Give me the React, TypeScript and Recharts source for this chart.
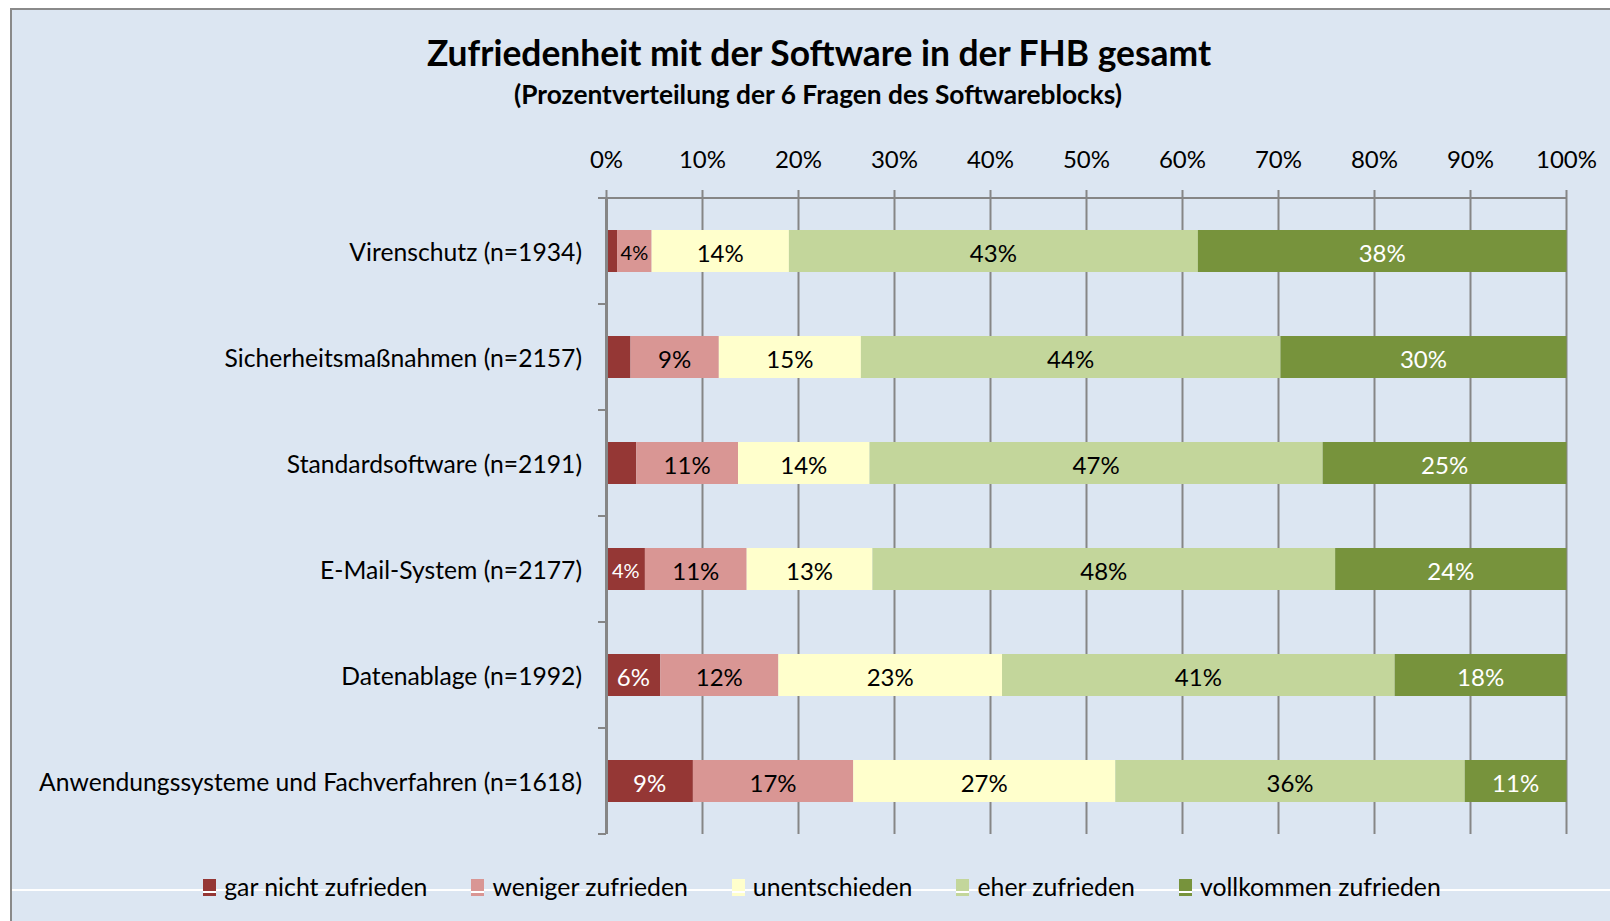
import React from "react";
import { BarChart, Bar, XAxis, YAxis, CartesianGrid, LabelList } from "recharts";

const categories = [
  "Virenschutz (n=1934)",
  "Sicherheitsmaßnahmen (n=2157)",
  "Standardsoftware (n=2191)",
  "E-Mail-System (n=2177)",
  "Datenablage (n=1992)",
  "Anwendungssysteme und Fachverfahren (n=1618)",
];
const garNicht = [1.1, 2.5, 3.1, 4.0, 5.6, 9.0];
const weniger = [3.6, 9.2, 10.6, 10.6, 12.3, 16.7];
const unentschieden = [14.3, 14.8, 13.7, 13.1, 23.3, 27.3];
const eher = [42.6, 43.7, 47.2, 48.2, 40.9, 36.4];
const vollkommen = [38.4, 29.8, 25.4, 24.1, 17.9, 10.6];
const xTicks = [0, 10, 20, 30, 40, 50, 60, 70, 80, 90, 100];

const series = [
  { key: "g", name: "gar nicht zufrieden", color: "#953735", text: "#fff", values: garNicht },
  { key: "w", name: "weniger zufrieden", color: "#D99694", text: "#000", values: weniger },
  { key: "u", name: "unentschieden", color: "#FFFFCC", text: "#000", values: unentschieden },
  { key: "e", name: "eher zufrieden", color: "#C3D69B", text: "#000", values: eher },
  { key: "v", name: "vollkommen zufrieden", color: "#77933C", text: "#fff", values: vollkommen },
];

const data = categories.map((name, i) => {
  const row: Record<string, string | number> = { name };
  series.forEach((s) => (row[s.key] = s.values[i]));
  return row;
});

const FONT = "Lato, 'Open Sans', sans-serif";
const GRID = "#868686";
const BAND = 106;

function XTick({ x, payload }: any) {
  return (
    <text x={x} y={158} textAnchor="middle" dominantBaseline="central" fontSize={24} fontFamily={FONT} fill="#000">
      {payload.value}%
    </text>
  );
}

function YTick({ y, payload, index }: any) {
  return (
    <g>
      <text x={582} y={y} textAnchor="end" dominantBaseline="central" fontSize={24.7} fontFamily={FONT} fill="#000">
        {payload.value}
      </text>
      <line x1={598} x2={606} y1={y - BAND / 2} y2={y - BAND / 2} stroke={GRID} strokeWidth={2} />
      {index === categories.length - 1 ? (
        <line x1={598} x2={606} y1={y + BAND / 2} y2={y + BAND / 2} stroke={GRID} strokeWidth={2} />
      ) : null}
    </g>
  );
}

// narrow segments get a smaller label, tiny ones none at all
const makeLabel = (color: string) => (props: any) => {
  const { x, y, width, height, value } = props;
  if (value < 3.5) return null;
  const fs = width < 45 ? 20 : 24;
  return (
    <text x={x + width / 2} y={y + height / 2 + 1} textAnchor="middle" dominantBaseline="central" fontSize={fs} fontFamily={FONT} fill={color}>
      {Math.round(value)}%
    </text>
  );
};

export default function App() {
  return (
    <div style={{ position: "absolute", left: 0, top: 0, width: 1610, height: 921, background: "#fff", overflow: "hidden", fontFamily: FONT }}>
      <div
        style={{
          position: "absolute", left: 10, top: 8, width: 1600, height: 913,
          background: "#DCE6F2", borderLeft: "2px solid #8a8a8a", borderTop: "2px solid #8a8a8a",
        }}
      />
      <div style={{ position: "absolute", left: 12, top: 889, width: 1598, height: 2, background: "#fff" }} />
      <div style={{ position: "absolute", left: 0, width: 1638, top: 32, textAlign: "center", fontSize: 35.4, fontWeight: 700, lineHeight: "42px" }}>
        Zufriedenheit mit der Software in der FHB gesamt
      </div>
      <div style={{ position: "absolute", left: 0, width: 1636, top: 78, textAlign: "center", fontSize: 26.3, fontWeight: 700, lineHeight: "32px" }}>
        (Prozentverteilung der 6 Fragen des Softwareblocks)
      </div>
      <div style={{ position: "absolute", left: 0, top: 0 }}>
        <BarChart width={1610} height={921} data={data} layout="vertical" barSize={42}
          margin={{ top: 158, right: 43.5, bottom: 87, left: 0 }}>
          <CartesianGrid horizontal={false} stroke={GRID} strokeWidth={2} />
          <XAxis type="number" orientation="top" domain={[0, 100]} ticks={xTicks} height={40}
            tickSize={8} tick={<XTick />} tickLine={{ stroke: GRID, strokeWidth: 2 }}
            axisLine={{ stroke: GRID, strokeWidth: 2 }} />
          <YAxis type="category" dataKey="name" width={606.5} tickLine={false} tick={<YTick />}
            axisLine={{ stroke: GRID, strokeWidth: 3 }} interval={0} />
          {series.map((s) => (
            <Bar key={s.key} dataKey={s.key} name={s.name} stackId="a" fill={s.color} isAnimationActive={false}>
              <LabelList dataKey={s.key} content={makeLabel(s.text)} />
            </Bar>
          ))}
        </BarChart>
      </div>
      <div style={{ position: "absolute", left: 0, width: 1644, top: 875, height: 24, display: "flex", justifyContent: "center", gap: 44 }}>
        {series.map((s) => (
          <div key={s.key} style={{ display: "flex", alignItems: "center", gap: 8, fontSize: 24.8, lineHeight: "24px" }}>
            <div style={{ width: 13, height: 17, background: s.color, position: "relative" }}>
              <div style={{ position: "absolute", left: 0, top: 12, width: 13, height: 2, background: "#fff" }} />
            </div>
            <span>{s.name}</span>
          </div>
        ))}
      </div>
    </div>
  );
}
